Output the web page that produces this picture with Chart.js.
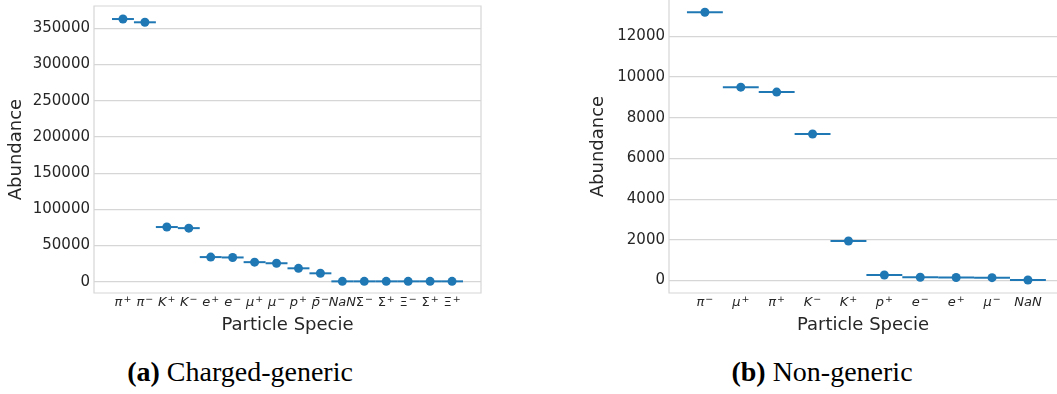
<!DOCTYPE html>
<html>
<head>
<meta charset="utf-8">
<script src="https://cdn.jsdelivr.net/npm/chart.js@4.4.0/dist/chart.umd.min.js"></script>
<style>
  body { margin: 0; background: #fff; width: 1057px; height: 394px; position: relative; overflow: hidden; }
  .box { position: absolute; }
  .cap { position: absolute; font-family: "Liberation Serif", serif; font-size: 28px; line-height: 28px; color: #000; white-space: nowrap; transform: translateX(-50%); }
</style>
</head>
<body>
<div class="box" style="left:0;top:0;width:500px;height:340px"><canvas id="chartA"></canvas></div>
<div class="box" style="left:560px;top:0;width:497px;height:340px"><canvas id="chartB"></canvas></div>
<div class="cap" style="left:240px;top:358px"><b>(a)</b> Charged-generic</div>
<div class="cap" style="left:822px;top:358px"><b>(b)</b> Non-generic</div>
<script>
// (a) charged-generic: symbol + charge sign
const speciesA = ["π", "π", "K", "K", "e", "e", "μ", "μ", "p", "p̄", "NaN", "Σ", "Σ̄", "Ξ", "Σ", "Ξ̄"];
const chargeA = ["+", "−", "+", "−", "+", "−", "+", "−", "+", "−", "", "−", "+", "−", "+", "+"];
const abundanceA = [362800, 358300, 75500, 74000, 34000, 33500, 27000, 25500, 18500, 11600, 500, 500, 500, 500, 500, 500];
const yTicksA = [0, 50000, 100000, 150000, 200000, 250000, 300000, 350000];

// (b) non-generic
const speciesB = ["π", "μ", "π", "K", "K", "p", "e", "e", "μ", "NaN"];
const chargeB = ["−", "+", "+", "−", "+", "+", "−", "+", "−", ""];
const abundanceB = [13180, 9500, 9260, 7200, 1940, 270, 160, 150, 140, 25];
const yTicksB = [0, 2000, 4000, 6000, 8000, 10000, 12000];

const blue = "#1f77b4";
const gridGrey = "#d6d6d6";
const textCol = "#262626";
const upright = ["Σ", "Σ̄", "Ξ", "Ξ̄"];

Chart.defaults.font.family = '"DejaVu Sans", sans-serif';
Chart.defaults.color = textCol;

// axes spines
const frame = {
  id: "frame",
  afterDraw(chart, args, opts) {
    const a = chart.chartArea;
    const c = chart.ctx;
    c.save();
    c.strokeStyle = gridGrey;
    c.lineWidth = 1.2;
    c.beginPath();
    c.moveTo(a.left, a.top);
    c.lineTo(a.left, a.bottom);
    c.lineTo(a.right, a.bottom);
    if (opts.full) {
      c.lineTo(a.right, a.top);
      c.closePath();
    }
    c.stroke();
    c.restore();
  },
};

// tick labels drawn like mathtext: italic symbol with a raised charge sign
const mathTicks = {
  id: "mathTicks",
  afterDraw(chart, args, opts) {
    const s = chart.scales.x;
    const c = chart.ctx;
    const baseFont = (sym) => (upright.includes(sym) ? "" : "italic ") + '13px "DejaVu Sans"';
    const supFont = '9.5px "DejaVu Sans"';
    const yBase = chart.chartArea.bottom + 13;
    c.save();
    c.fillStyle = textCol;
    c.textBaseline = "alphabetic";
    c.textAlign = "left";
    opts.labels.forEach((sym, i) => {
      c.font = baseFont(sym);
      const w1 = c.measureText(sym).width;
      c.font = supFont;
      const sup = opts.charges[i];
      const w2 = sup ? c.measureText(sup).width + 1 : 0;
      const x0 = s.getPixelForValue(i) - (w1 + w2) / 2;
      c.font = baseFont(sym);
      c.fillText(sym, x0, yBase);
      if (sup) {
        c.font = supFont;
        c.fillText(sup, x0 + w1 + 1, yBase - 4.5);
      }
    });
    c.restore();
  },
};

function halfCat(ctx) {
  const s = ctx.chart.scales.x;
  if (!s) return 10;
  return Math.abs(s.getPixelForValue(0.5) - s.getPixelForValue(0));
}

function makeChart(id, labels, charges, values, yTicks, o) {
  const pts = values.map((v, i) => ({ x: i, y: v }));
  return new Chart(document.getElementById(id), {
    type: "scatter",
    data: {
      datasets: [
        {
          data: pts,
          pointStyle: "circle",
          pointRadius: 4.5,
          pointBackgroundColor: blue,
          pointBorderWidth: 0,
        },
        {
          data: pts,
          pointStyle: "line",
          pointRadius: halfCat,
          pointBorderColor: blue,
          pointBorderWidth: 2,
        },
      ],
    },
    options: {
      responsive: true,
      maintainAspectRatio: false,
      animation: false,
      events: [],
      layout: { autoPadding: false, padding: { left: 0, top: o.top, right: o.right, bottom: 0 } },
      plugins: {
        legend: { display: false },
        tooltip: { enabled: false },
        mathTicks: { labels: labels, charges: charges },
        frame: { full: o.full },
      },
      scales: {
        x: {
          type: "linear",
          min: o.xMin,
          max: o.xMax,
          afterBuildTicks: (s) => { s.ticks = labels.map((l, i) => ({ value: i })); },
          afterFit: (s) => { s.height = o.xHeight; s.paddingLeft = 0; s.paddingRight = 0; },
          grid: { display: false, drawTicks: false },
          border: { display: false },
          ticks: { display: false },
          title: {
            display: true,
            text: "Particle Specie",
            font: { size: 18 },
            padding: { top: 0, bottom: 4 },
          },
        },
        y: {
          min: o.yMin,
          max: o.yMax,
          afterBuildTicks: (s) => { s.ticks = yTicks.map((v) => ({ value: v })); },
          afterFit: (s) => { s.width = o.yWidth; s.paddingTop = 0; s.paddingBottom = 0; },
          grid: { color: gridGrey, lineWidth: 1.2, drawTicks: false },
          border: { display: false },
          ticks: { padding: 4, font: { size: 15 }, callback: (v) => String(v) },
          title: {
            display: true,
            text: "Abundance",
            font: { size: 18 },
            padding: { top: o.titlePad, bottom: 0 },
          },
        },
      },
    },
    plugins: [frame, mathTicks],
  });
}

makeChart("chartA", speciesA, chargeA, abundanceA, yTicksA, {
  top: 6, right: 19, xHeight: 47, yWidth: 94, titlePad: 6, full: true,
  xMin: -1.32, xMax: 16.32, yMin: -15600, yMax: 380800,
});

makeChart("chartB", speciesB, chargeB, abundanceB, yTicksB, {
  top: 0, right: 0, xHeight: 47, yWidth: 109, titlePad: 28, full: false,
  xMin: -1.0, xMax: 9.81, yMin: -614, yMax: 13784,
});
</script>
</body>
</html>
